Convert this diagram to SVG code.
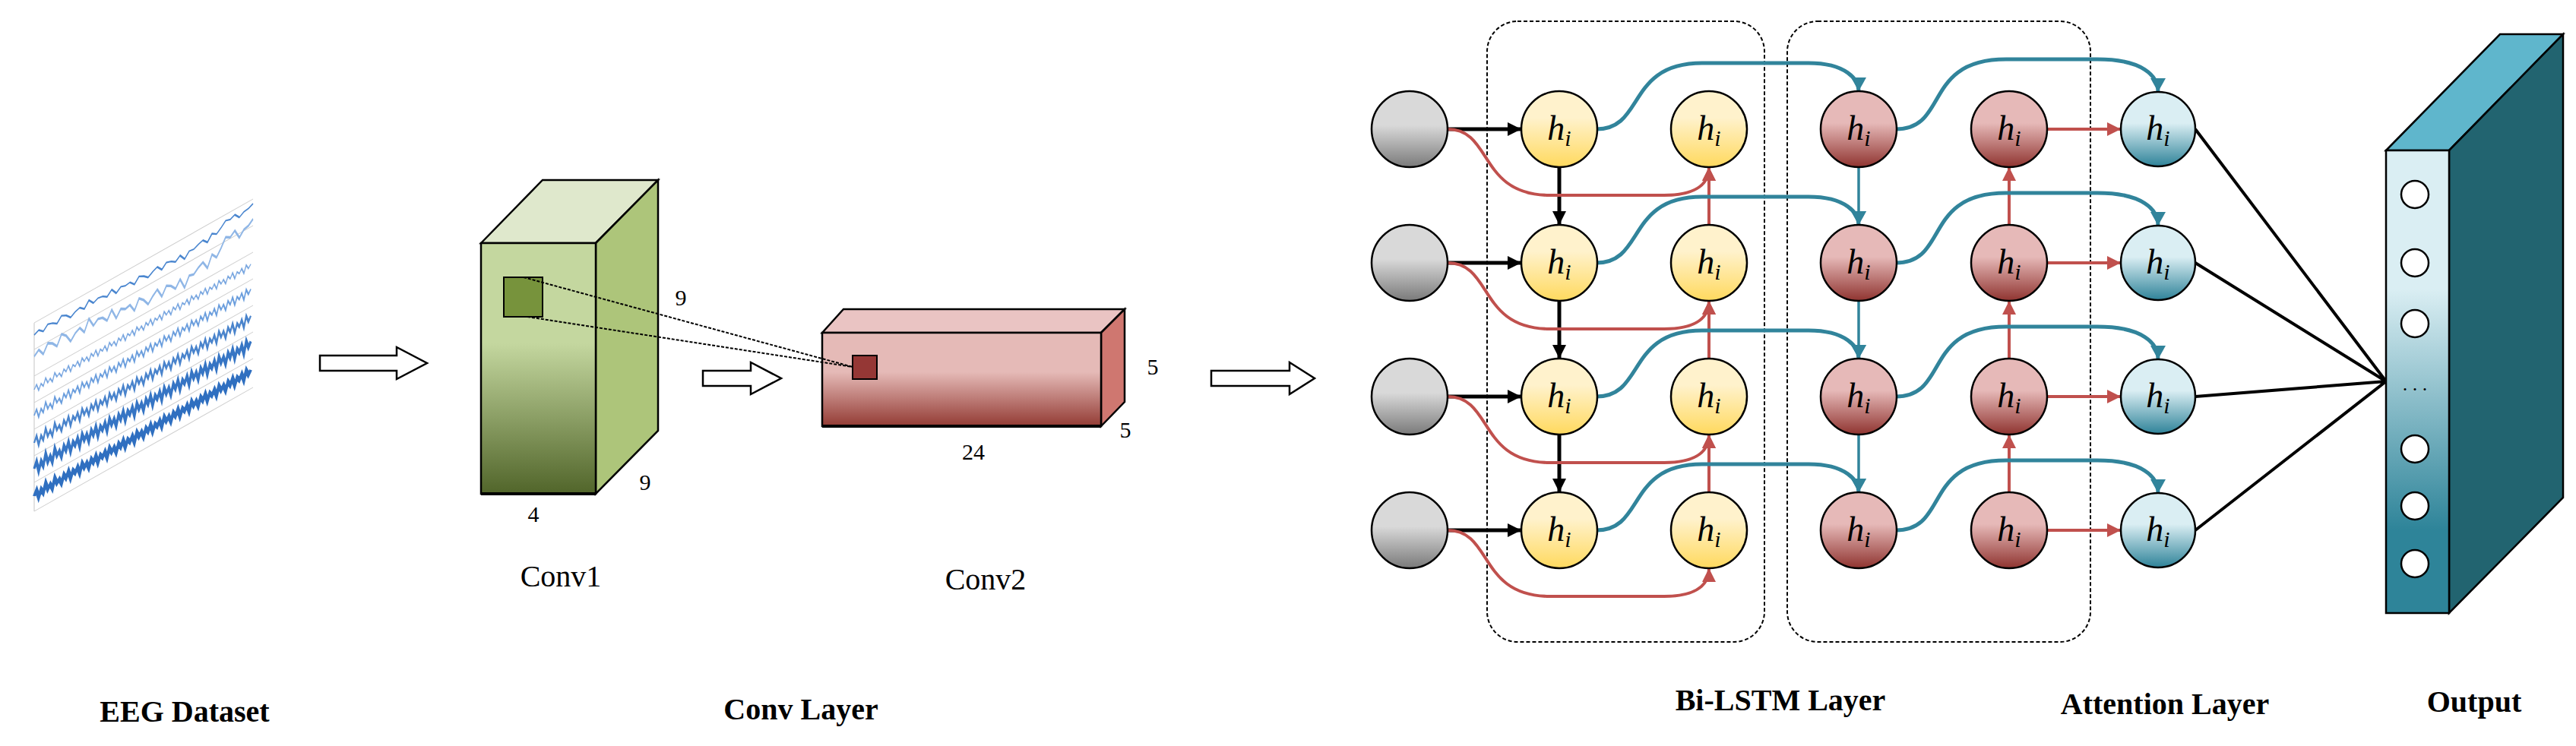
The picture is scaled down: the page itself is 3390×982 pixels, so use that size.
<svg xmlns="http://www.w3.org/2000/svg" xmlns:xlink="http://www.w3.org/1999/xlink" width="3390" height="982" viewBox="0 0 3390 982">
<style>
.lbl{font-family:"Liberation Serif",serif;font-weight:bold;font-size:40px;fill:#000;text-anchor:middle}
.num{font-family:"Liberation Serif",serif;font-size:30px;fill:#000;text-anchor:middle}
.cv{font-family:"Liberation Serif",serif;font-size:40px;fill:#000;text-anchor:middle}
.h{font-family:"Liberation Serif",serif;font-style:italic;font-size:46px;fill:#000;text-anchor:middle}
.hs{font-size:30px}
.nd{stroke:#000;stroke-width:2.5}
.blk{stroke:#000;stroke-width:5;fill:none}
.red{stroke:#c0504d;stroke-width:4;fill:none}
.teal{stroke:#31849b;stroke-width:5;fill:none}
.tealv{stroke:#31849b;stroke-width:3.5;fill:none}
.hollow{fill:#fff;stroke:#000;stroke-width:2.5}
.grid{stroke:#cfcfcf;stroke-width:1.2;fill:none}
.dash{fill:none;stroke:#000;stroke-width:2;stroke-dasharray:5,3}
</style>
<defs>
<linearGradient id="gGray" x1="0" y1="0" x2="0" y2="1"><stop offset="0.45" stop-color="#d9d9d9"/><stop offset="1" stop-color="#7a7a7a"/></linearGradient>
<linearGradient id="gYel" x1="0" y1="0" x2="0" y2="1"><stop offset="0.35" stop-color="#fff2cc"/><stop offset="1" stop-color="#ffd95e"/></linearGradient>
<linearGradient id="gRed" x1="0" y1="0" x2="0" y2="1"><stop offset="0.42" stop-color="#e6b9b8"/><stop offset="1" stop-color="#8f3430"/></linearGradient>
<linearGradient id="gBlu" x1="0" y1="0" x2="0" y2="1"><stop offset="0.42" stop-color="#daeef3"/><stop offset="1" stop-color="#2f8399"/></linearGradient>
<linearGradient id="gOut" x1="0" y1="0" x2="0" y2="1"><stop offset="0.3" stop-color="#daeef3"/><stop offset="0.82" stop-color="#2e8499"/></linearGradient>
<linearGradient id="gGreen" x1="0" y1="0" x2="0" y2="1"><stop offset="0.4" stop-color="#c4d79f"/><stop offset="1" stop-color="#51652a"/></linearGradient>
<linearGradient id="gPink" x1="0" y1="0" x2="0" y2="1"><stop offset="0.42" stop-color="#e5bab7"/><stop offset="1" stop-color="#933b34"/></linearGradient>
<marker id="aB" markerUnits="userSpaceOnUse" markerWidth="20" markerHeight="18" refX="18" refY="9" orient="auto"><path d="M0,0 L18,9 L0,18 z" fill="#000"/></marker>
<marker id="aR" markerUnits="userSpaceOnUse" markerWidth="20" markerHeight="18" refX="18" refY="9" orient="auto"><path d="M0,0 L18,9 L0,18 z" fill="#c0504d"/></marker>
<marker id="aT" markerUnits="userSpaceOnUse" markerWidth="20" markerHeight="20" refX="18" refY="10" orient="auto"><path d="M0,0 L18,10 L0,20 z" fill="#31849b"/></marker>
<path id="nz" d="M0,-6 l6,-3 6,5 6,-6 6,2 6,4 6,-7 6,3 6,6 6,-4 6,-2 6,5 6,-8 6,7 6,-3 6,1 6,4 6,-6 6,8 6,-5 6,2 6,-1 6,6 6,-7 6,3 6,5 6,-4 6,-3 6,7 6,-6 6,2 6,4 6,-5 6,8 6,-7 6,1 6,-3 6,-2 6,6 6,-8 6,4 6,-5 6,-6 6,2 6,-3 6,7 6,-4 6,-1 6,-3"/>
<path id="hf" d="M0,0 l3,-5 3,9 3,-7 3,5 3,-9 3,8 3,-4 3,6 3,-10 3,7 3,-3 3,6 3,-8 3,5 3,-6 3,9 3,-7 3,4 3,-5 3,8 3,-9 3,6 3,-4 3,7 3,-8 3,5 3,-6 3,9 3,-7 3,4 3,-5 3,8 3,-9 3,6 3,-4 3,7 3,-8 3,5 3,-6 3,9 3,-7 3,4 3,-5 3,8 3,-9 3,6 3,-4 3,7 3,-8 3,5 3,-6 3,9 3,-7 3,4 3,-5 3,8 3,-9 3,6 3,-4 3,7 3,-8 3,5 3,-6 3,9 3,-7 3,4 3,-5 3,8 3,-9 3,6 3,-4 3,7 3,-8 3,5 3,-6 3,9 3,-7 3,4 3,-5 3,8 3,-9 3,6 3,-4 3,7 3,-8 3,5 3,-6 3,9 3,-7 3,4 3,-5 3,8 3,-9 3,6 3,-4"/>
</defs>
<rect width="3390" height="982" fill="#fff"/>

<g id="eeg" transform="matrix(1,-0.566,0,1,45,425)">
<path class="grid" d="M0,0 H288 M0,35 H288 M0,70 H288 M0,105 H288 M0,140 H288 M0,175 H288 M0,210 H288 M0,248 H288 M0,0 V248"/>
<use href="#nz" transform="translate(0,22)" fill="none" stroke="#4a86cf" stroke-width="2"/>
<use href="#nz" transform="translate(0,55) scale(1,1.8)" fill="none" stroke="#8fb6e6" stroke-width="1.8"/>
<use href="#hf" transform="translate(0,88) scale(1,1)" fill="none" stroke="#7aa7e0" stroke-width="1.6"/>
<use href="#hf" transform="translate(0,122) scale(1,1.3)" fill="none" stroke="#6b9edd" stroke-width="1.8"/>
<use href="#hf" transform="translate(0,158) scale(1,1.5)" fill="none" stroke="#4a84cc" stroke-width="2.4"/>
<use href="#hf" transform="translate(0,192) scale(1,1.6)" fill="none" stroke="#3675c4" stroke-width="3.5"/>
<use href="#hf" transform="translate(0,228) scale(1,1.2)" fill="none" stroke="#2f6fc0" stroke-width="4.5"/>
</g>

<g id="arrow1"><polygon class="hollow" points="421,468 522,468 522,457 562,478 522,499 522,488 421,488"/></g>

<g id="conv1">
<polygon points="633,320 714,237 866,237 784,320" fill="#dfe8cc" stroke="#000" stroke-width="2.5"/>
<polygon points="784,320 866,237 866,567 784,650" fill="#adc57a" stroke="#000" stroke-width="2.5"/>
<rect x="633" y="320" width="151" height="330" fill="url(#gGreen)" stroke="#000" stroke-width="2.5"/>
<line x1="633" y1="650" x2="784" y2="650" stroke="#000" stroke-width="4"/>
<rect x="663" y="365" width="51" height="52" fill="#77933c" stroke="#000" stroke-width="2"/>
<text class="num" x="896" y="402">9</text>
<text class="num" x="849" y="645">9</text>
<text class="num" x="702" y="687">4</text>
<text class="cv" x="738" y="772">Conv1</text>
</g>

<g id="arrow2"><polygon class="hollow" points="925,488 988,488 988,477 1028,498 988,519 988,508 925,508"/></g>

<g id="conv2">
<polygon points="1082,438 1110,407 1480,407 1449,438" fill="#eac4c3" stroke="#000" stroke-width="2.5"/>
<polygon points="1449,438 1480,407 1480,529 1449,561" fill="#cf7770" stroke="#000" stroke-width="2.5"/>
<rect x="1082" y="438" width="367" height="123" fill="url(#gPink)" stroke="#000" stroke-width="2.5"/>
<line x1="1082" y1="561" x2="1449" y2="561" stroke="#000" stroke-width="4"/>
<rect x="1122" y="468" width="32" height="31" fill="#953735" stroke="#000" stroke-width="2"/>
<text class="num" x="1517" y="493">5</text>
<text class="num" x="1481" y="576">5</text>
<text class="num" x="1281" y="605">24</text>
<text class="cv" x="1297" y="776">Conv2</text>
</g>

<g id="convlinks">
<line x1="689" y1="365" x2="1122" y2="483" stroke="#000" stroke-width="2" stroke-dasharray="4,2"/>
<line x1="694" y1="417" x2="1122" y2="483" stroke="#000" stroke-width="2" stroke-dasharray="4,2"/>
</g>

<g id="arrow3"><polygon class="hollow" points="1594,488 1697,488 1697,477 1730,498 1697,519 1697,508 1594,508"/></g>

<g id="boxes">
<rect class="dash" x="1957" y="28" width="365" height="817" rx="40"/>
<rect class="dash" x="2352" y="28" width="399" height="817" rx="40"/>
</g>

<g id="connectors">
<path class="blk" marker-end="url(#aB)" d="M1905,170 H2002"/>
<path class="blk" marker-end="url(#aB)" d="M1905,346 H2002"/>
<path class="blk" marker-end="url(#aB)" d="M1905,522 H2002"/>
<path class="blk" marker-end="url(#aB)" d="M1905,698 H2002"/>
<path class="blk" marker-end="url(#aB)" d="M2052,220 V296"/>
<path class="blk" marker-end="url(#aB)" d="M2052,396 V472"/>
<path class="blk" marker-end="url(#aB)" d="M2052,572 V648"/>
<path class="red" marker-end="url(#aR)" d="M1905,170 C1965,170 1945,257 2040,257 L2190,257 C2235,257 2249,240 2249,220"/>
<path class="red" marker-end="url(#aR)" d="M1905,346 C1965,346 1945,433 2040,433 L2190,433 C2235,433 2249,416 2249,396"/>
<path class="red" marker-end="url(#aR)" d="M1905,522 C1965,522 1945,609 2040,609 L2190,609 C2235,609 2249,592 2249,572"/>
<path class="red" marker-end="url(#aR)" d="M1905,698 C1965,698 1945,785 2040,785 L2190,785 C2235,785 2249,768 2249,748"/>
<path class="red" marker-end="url(#aR)" d="M2249,296 V220"/>
<path class="red" marker-end="url(#aR)" d="M2249,472 V396"/>
<path class="red" marker-end="url(#aR)" d="M2249,648 V572"/>
<path class="red" marker-end="url(#aR)" d="M2644,296 V220"/>
<path class="red" marker-end="url(#aR)" d="M2644,472 V396"/>
<path class="red" marker-end="url(#aR)" d="M2644,648 V572"/>
<path class="red" marker-end="url(#aR)" d="M2693,170 H2791"/>
<path class="red" marker-end="url(#aR)" d="M2693,346 H2791"/>
<path class="red" marker-end="url(#aR)" d="M2693,522 H2791"/>
<path class="red" marker-end="url(#aR)" d="M2693,698 H2791"/>
<path class="teal" marker-end="url(#aT)" d="M2101,170 C2165,170 2140,83 2240,83 L2380,83 C2430,83 2446,105 2446,120"/>
<path class="teal" marker-end="url(#aT)" d="M2101,346 C2165,346 2140,259 2240,259 L2380,259 C2430,259 2446,281 2446,296"/>
<path class="teal" marker-end="url(#aT)" d="M2101,522 C2165,522 2140,435 2240,435 L2380,435 C2430,435 2446,457 2446,472"/>
<path class="teal" marker-end="url(#aT)" d="M2101,698 C2165,698 2140,611 2240,611 L2380,611 C2430,611 2446,633 2446,648"/>
<path class="tealv" marker-end="url(#aT)" d="M2446,220 V296"/>
<path class="tealv" marker-end="url(#aT)" d="M2446,396 V472"/>
<path class="tealv" marker-end="url(#aT)" d="M2446,572 V648"/>
<path class="teal" marker-end="url(#aT)" d="M2495,170 C2565,170 2530,78 2640,78 L2760,78 C2820,78 2840,100 2840,121"/>
<path class="teal" marker-end="url(#aT)" d="M2495,346 C2565,346 2530,254 2640,254 L2760,254 C2820,254 2840,276 2840,297"/>
<path class="teal" marker-end="url(#aT)" d="M2495,522 C2565,522 2530,430 2640,430 L2760,430 C2820,430 2840,452 2840,473"/>
<path class="teal" marker-end="url(#aT)" d="M2495,698 C2565,698 2530,606 2640,606 L2760,606 C2820,606 2840,628 2840,649"/>
<path d="M2889,170 L3140,502 M2889,346 L3140,502 M2889,522 L3140,502 M2889,698 L3140,502" stroke="#000" stroke-width="4" fill="none"/>
</g>

<g id="input"><circle class="nd" cx="1855" cy="170" r="50" fill="url(#gGray)"/><circle class="nd" cx="1855" cy="346" r="50" fill="url(#gGray)"/><circle class="nd" cx="1855" cy="522" r="50" fill="url(#gGray)"/><circle class="nd" cx="1855" cy="698" r="50" fill="url(#gGray)"/></g>

<g id="lstm-fw1">
<circle class="nd" cx="2052" cy="170" r="50" fill="url(#gYel)"/><text class="h" x="2052" y="184">h<tspan class="hs" dy="8">i</tspan></text>
<circle class="nd" cx="2052" cy="346" r="50" fill="url(#gYel)"/><text class="h" x="2052" y="360">h<tspan class="hs" dy="8">i</tspan></text>
<circle class="nd" cx="2052" cy="522" r="50" fill="url(#gYel)"/><text class="h" x="2052" y="536">h<tspan class="hs" dy="8">i</tspan></text>
<circle class="nd" cx="2052" cy="698" r="50" fill="url(#gYel)"/><text class="h" x="2052" y="712">h<tspan class="hs" dy="8">i</tspan></text>
</g>
<g id="lstm-fw2">
<circle class="nd" cx="2249" cy="170" r="50" fill="url(#gYel)"/><text class="h" x="2249" y="184">h<tspan class="hs" dy="8">i</tspan></text>
<circle class="nd" cx="2249" cy="346" r="50" fill="url(#gYel)"/><text class="h" x="2249" y="360">h<tspan class="hs" dy="8">i</tspan></text>
<circle class="nd" cx="2249" cy="522" r="50" fill="url(#gYel)"/><text class="h" x="2249" y="536">h<tspan class="hs" dy="8">i</tspan></text>
<circle class="nd" cx="2249" cy="698" r="50" fill="url(#gYel)"/><text class="h" x="2249" y="712">h<tspan class="hs" dy="8">i</tspan></text>
</g>
<g id="lstm-bw1">
<circle class="nd" cx="2446" cy="170" r="50" fill="url(#gRed)"/><text class="h" x="2446" y="184">h<tspan class="hs" dy="8">i</tspan></text>
<circle class="nd" cx="2446" cy="346" r="50" fill="url(#gRed)"/><text class="h" x="2446" y="360">h<tspan class="hs" dy="8">i</tspan></text>
<circle class="nd" cx="2446" cy="522" r="50" fill="url(#gRed)"/><text class="h" x="2446" y="536">h<tspan class="hs" dy="8">i</tspan></text>
<circle class="nd" cx="2446" cy="698" r="50" fill="url(#gRed)"/><text class="h" x="2446" y="712">h<tspan class="hs" dy="8">i</tspan></text>
</g>
<g id="lstm-bw2">
<circle class="nd" cx="2644" cy="170" r="50" fill="url(#gRed)"/><text class="h" x="2644" y="184">h<tspan class="hs" dy="8">i</tspan></text>
<circle class="nd" cx="2644" cy="346" r="50" fill="url(#gRed)"/><text class="h" x="2644" y="360">h<tspan class="hs" dy="8">i</tspan></text>
<circle class="nd" cx="2644" cy="522" r="50" fill="url(#gRed)"/><text class="h" x="2644" y="536">h<tspan class="hs" dy="8">i</tspan></text>
<circle class="nd" cx="2644" cy="698" r="50" fill="url(#gRed)"/><text class="h" x="2644" y="712">h<tspan class="hs" dy="8">i</tspan></text>
</g>
<g id="attention">
<circle class="nd" cx="2840" cy="170" r="49" fill="url(#gBlu)"/><text class="h" x="2840" y="184">h<tspan class="hs" dy="8">i</tspan></text>
<circle class="nd" cx="2840" cy="346" r="49" fill="url(#gBlu)"/><text class="h" x="2840" y="360">h<tspan class="hs" dy="8">i</tspan></text>
<circle class="nd" cx="2840" cy="522" r="49" fill="url(#gBlu)"/><text class="h" x="2840" y="536">h<tspan class="hs" dy="8">i</tspan></text>
<circle class="nd" cx="2840" cy="698" r="49" fill="url(#gBlu)"/><text class="h" x="2840" y="712">h<tspan class="hs" dy="8">i</tspan></text>
</g>

<g id="output">
<polygon points="3140,198 3290,45 3373,45 3223,198" fill="#5fb6cc" stroke="#000" stroke-width="2.5"/>
<polygon points="3223,198 3373,45 3373,655 3223,807" fill="#226470" stroke="#000" stroke-width="2.5"/>
<rect x="3140" y="198" width="83" height="609" fill="url(#gOut)" stroke="#000" stroke-width="2.5"/>
<g fill="#fff" stroke="#000" stroke-width="2.5">
<ellipse cx="3178" cy="256" rx="18" ry="18"/><ellipse cx="3178" cy="346" rx="18" ry="18"/><ellipse cx="3178" cy="426" rx="18" ry="18"/>
<ellipse cx="3178" cy="591" rx="18" ry="18"/><ellipse cx="3178" cy="666" rx="18" ry="18"/><ellipse cx="3178" cy="742" rx="18" ry="18"/>
</g>
<text x="3178" y="514" font-family="Liberation Serif,serif" font-size="26" text-anchor="middle">. . .</text>
</g>

<g id="labels">
<text class="lbl" x="243" y="950">EEG Dataset</text>
<text class="lbl" x="1054" y="947">Conv Layer</text>
<text class="lbl" x="2343" y="935">Bi-LSTM Layer</text>
<text class="lbl" x="2849" y="940">Attention Layer</text>
<text class="lbl" x="3256" y="937">Output</text>
</g>
</svg>
